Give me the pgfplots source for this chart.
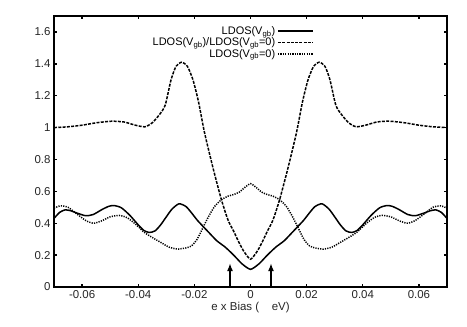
\documentclass[border=0pt]{standalone}
\usepackage{fontspec}
\setmainfont{Liberation Sans}
\usepackage{pgfplots}
\pgfplotsset{compat=1.18}
\usetikzlibrary{arrows.meta}

% LDOS(Vgb), left half + mirrored right half
\pgfplotstableread{
x y
-0.070 0.430
-0.068 0.468
-0.066 0.484
-0.064 0.478
-0.062 0.465
-0.0587 0.447
-0.056 0.455
-0.053 0.485
-0.0505 0.506
-0.0486 0.511
-0.046 0.497
-0.043 0.450
-0.040 0.390
-0.038 0.355
-0.0361 0.342
-0.034 0.352
-0.032 0.390
-0.030 0.440
-0.028 0.488
-0.0255 0.522
-0.023 0.505
-0.021 0.465
-0.019 0.420
-0.017 0.382
-0.015 0.345
-0.012 0.290
-0.009 0.250
-0.006 0.200
-0.003 0.145
0 0.111
0.003 0.145
0.006 0.200
0.009 0.250
0.012 0.290
0.015 0.345
0.017 0.382
0.019 0.420
0.021 0.465
0.023 0.505
0.0255 0.522
0.028 0.488
0.030 0.440
0.032 0.390
0.034 0.352
0.0361 0.342
0.038 0.355
0.040 0.390
0.043 0.450
0.046 0.497
0.0486 0.511
0.0505 0.506
0.053 0.485
0.056 0.455
0.0587 0.447
0.062 0.465
0.064 0.478
0.066 0.484
0.068 0.468
0.070 0.430
}\ldosgb

% LDOS(Vgb)/LDOS(Vgb=0)
\pgfplotstableread{
x y
-0.070 1.000
-0.065 1.005
-0.060 1.015
-0.055 1.030
-0.0495 1.040
-0.045 1.035
-0.041 1.015
-0.0376 1.005
-0.035 1.030
-0.0325 1.080
-0.0304 1.140
-0.0283 1.300
-0.0265 1.385
-0.0245 1.410
-0.0225 1.385
-0.0205 1.300
-0.0185 1.160
-0.0164 0.970
-0.0134 0.750
-0.0104 0.550
-0.0080 0.420
-0.0060 0.350
-0.0044 0.290
-0.0026 0.230
-0.0010 0.190
0 0.174
0.0010 0.190
0.0026 0.230
0.0044 0.290
0.0060 0.350
0.0080 0.420
0.0104 0.550
0.0134 0.750
0.0164 0.970
0.0185 1.160
0.0205 1.300
0.0225 1.385
0.0245 1.410
0.0265 1.385
0.0283 1.300
0.0304 1.140
0.0325 1.080
0.035 1.030
0.0376 1.005
0.041 1.015
0.045 1.035
0.0495 1.040
0.055 1.030
0.060 1.015
0.065 1.005
0.070 1.000
}\ratio

% LDOS(Vgb=0)
\pgfplotstableread{
x y
-0.070 0.495
-0.0677 0.509
-0.065 0.500
-0.062 0.460
-0.0585 0.415
-0.0558 0.400
-0.053 0.415
-0.050 0.440
-0.0468 0.449
-0.044 0.435
-0.041 0.395
-0.038 0.345
-0.0355 0.316
-0.032 0.280
-0.029 0.250
-0.026 0.238
-0.023 0.245
-0.021 0.258
-0.019 0.300
-0.017 0.370
-0.015 0.440
-0.0128 0.505
-0.0104 0.547
-0.008 0.570
-0.006 0.580
-0.004 0.595
-0.002 0.625
0 0.648
0.002 0.625
0.004 0.595
0.006 0.580
0.008 0.570
0.0104 0.547
0.0128 0.505
0.015 0.440
0.017 0.370
0.019 0.300
0.021 0.258
0.023 0.245
0.026 0.238
0.029 0.250
0.032 0.280
0.0355 0.316
0.038 0.345
0.041 0.395
0.044 0.435
0.0468 0.449
0.050 0.440
0.053 0.415
0.0558 0.400
0.0585 0.415
0.062 0.460
0.065 0.500
0.0677 0.509
0.070 0.495
}\ldoszero

\begin{document}
\begin{tikzpicture}
  \path[use as bounding box] (-54bp,-40bp) rectangle (413bp,287bp);
  \begin{axis}[
    at={(0,0)}, anchor=south west,
    scale only axis, width=393bp, height=271bp,
    xmin=-0.07, xmax=0.07, ymin=0, ymax=1.7,
    xtick={-0.06,-0.04,...,0.061}, ytick={0,0.2,...,1.61},
    scaled x ticks=false, scaled y ticks=false,
    xticklabel style={/pgf/number format/fixed, /pgf/number format/precision=2},
    yticklabel style={/pgf/number format/fixed, /pgf/number format/precision=1},
    /pgf/number format/assume math mode=true,
    tick label style={font=\fontsize{11.5}{13}\selectfont, text=black!85},
    label style={font=\fontsize{11.5}{13}\selectfont, text=black!85},
    xlabel={e x Bias (\hspace{1.1em}eV)},
    xlabel style={yshift=3pt},
    tick align=inside, major tick length=3pt,
    tick style={line width=1.4pt, black},
    axis line style={line width=1.7pt},
    legend plot pos=right,
    legend cell align=right,
    legend style={draw=none, fill=none, at={(0.665,0.97)}, anchor=north east,
      font=\fontsize{11}{12}\selectfont, row sep=0pt, inner sep=1pt,
      nodes={inner ysep=1pt}},
    legend image code/.code={\draw[#1] (0cm,0cm) -- (1.25cm,0cm);},
    every axis plot/.append style={line width=1.5pt, black, smooth, tension=0.4}
  ]
    \addplot[solid] table {\ldosgb};
    \addplot[dash pattern=on 3pt off 1.3pt] table {\ratio};
    \addplot[dash pattern=on 1.2pt off 1.2pt] table {\ldoszero};
    \addplot[line width=2.2pt, -{Latex[length=8pt,width=6pt]}, forget plot, sharp plot]
      coordinates {(-0.0073,0) (-0.0073,0.15)};
    \addplot[line width=2.2pt, -{Latex[length=8pt,width=6pt]}, forget plot, sharp plot]
      coordinates {(0.0073,0) (0.0073,0.15)};
    \legend{LDOS(V\textsubscript{gb}), LDOS(V\textsubscript{gb})/LDOS(V\textsubscript{gb}=0), LDOS(V\textsubscript{gb}=0)}
  \end{axis}
\end{tikzpicture}
\end{document}
